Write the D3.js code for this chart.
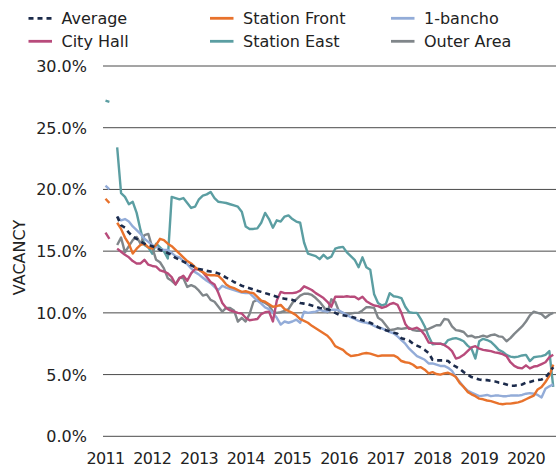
<!DOCTYPE html>
<html>
<head>
<meta charset="utf-8">
<script src="https://cdn.jsdelivr.net/npm/d3@7"></script>
<style>
  html, body { margin: 0; padding: 0; background: #fff; }
  svg { display: block; font-family: "DejaVu Sans", sans-serif; }
</style>
</head>
<body>
<svg id="chart" width="556" height="469"></svg>
<script>
// ---- data (monthly, starting January 2011; null = no data) ----
const startYear = 2011;
const yearTicks = [2011, 2012, 2013, 2014, 2015, 2016, 2017, 2018, 2019, 2020];
const yTicks = [0, 5, 10, 15, 20, 25, 30];

const average = [null,null,null,17.8,17.1,16.9,16.5,16.2,16.0,15.8,15.6,15.5,
15.4,15.3,15.1,15.0,14.85,14.7,14.45,14.3,14.15,14.0,13.85,13.7,
13.55,13.5,13.4,13.35,13.3,13.2,13.05,12.85,12.7,12.5,12.35,12.2,
12.1,12.0,11.9,11.8,11.7,11.6,11.5,11.4,11.3,11.2,11.15,11.1,
11.05,10.95,10.8,10.75,10.7,10.6,10.5,10.4,10.35,10.3,10.2,10.0,
9.85,9.8,9.75,9.7,9.6,9.5,9.4,9.3,9.2,9.05,8.85,8.7,
8.6,8.5,8.4,8.3,7.95,7.85,7.75,7.5,7.35,7.2,7.0,6.75,
6.2,6.15,6.15,6.15,6.1,5.8,5.65,5.45,5.2,5.0,4.8,4.7,
4.6,4.55,4.55,4.5,4.45,4.35,4.3,4.2,4.1,4.1,4.15,4.2,
4.35,4.4,4.5,4.55,4.6,4.75,5.15,5.6];

const stationFront = [19.25,18.9,null,17.3,16.8,16.1,15.6,14.8,15.2,15.5,15.6,15.3,
15.2,15.5,16.0,15.9,15.6,15.4,15.1,14.8,14.5,14.2,14.0,13.7,
13.5,13.3,13.1,13.05,13.05,13.0,12.7,12.3,12.1,12.0,11.85,11.7,
11.75,11.65,11.6,11.3,11.0,10.9,10.7,10.5,10.55,10.65,10.3,10.15,
10.0,9.8,9.5,9.35,9.2,8.95,8.75,8.55,8.35,8.15,7.8,7.3,
7.15,7.0,6.7,6.5,6.55,6.6,6.7,6.75,6.7,6.6,6.5,6.55,
6.55,6.55,6.55,6.4,6.1,6.0,5.95,5.8,5.55,5.6,5.4,5.1,
5.2,5.05,5.0,5.1,5.15,5.0,4.8,4.3,4.0,3.6,3.4,3.25,
3.05,3.0,2.9,2.85,2.75,2.65,2.6,2.65,2.65,2.7,2.75,2.85,
3.0,3.15,3.3,3.8,4.0,4.4,4.9,5.8];

const bancho1 = [20.3,20.0,null,17.8,17.5,17.6,17.4,17.0,16.7,16.4,16.0,15.75,
15.5,15.35,15.15,15.1,15.1,14.85,14.6,14.5,14.2,13.95,13.6,13.3,
13.1,12.85,12.6,12.4,12.1,11.85,12.2,12.05,11.95,11.85,11.75,11.65,
11.6,11.6,11.3,11.0,10.75,10.45,10.3,10.0,9.6,9.05,9.3,9.2,
9.3,9.45,9.2,10.1,10.0,10.05,10.1,10.25,10.15,10.1,10.25,10.25,
10.2,10.0,9.85,9.65,9.5,9.35,9.25,9.2,9.1,8.95,8.8,8.75,
8.6,8.45,8.35,8.1,7.8,7.5,7.1,6.8,6.5,6.35,6.2,5.9,
5.9,5.8,5.7,5.7,5.55,5.3,4.8,4.4,4.0,3.7,3.55,3.4,
3.25,3.3,3.35,3.25,3.3,3.3,3.25,3.25,3.3,3.3,3.3,3.35,
3.45,3.5,3.45,3.35,3.15,3.85,4.05,4.2];

const cityHall = [16.5,16.0,null,15.2,14.95,14.7,14.5,14.2,14.0,14.0,14.3,13.9,
13.8,13.75,13.45,13.35,13.2,12.9,12.3,12.8,13.0,12.6,13.2,13.55,
13.5,13.3,12.9,12.5,12.3,11.6,10.8,10.4,10.2,10.1,10.0,9.95,
9.6,9.4,9.45,9.5,9.9,10.05,10.1,9.3,11.0,11.7,11.6,11.6,
11.6,11.65,11.8,12.15,12.0,11.85,11.6,11.4,11.2,10.9,10.5,11.3,
11.3,11.3,11.35,11.3,11.3,11.1,11.3,10.95,10.75,10.6,10.55,10.4,
10.5,10.7,10.8,10.65,10.0,9.1,8.7,8.7,8.8,8.6,8.2,7.6,
7.55,7.5,7.5,7.4,7.2,6.9,6.3,6.4,6.6,6.9,7.2,7.3,
7.1,7.0,6.95,6.9,6.8,6.75,6.65,6.5,6.0,5.7,5.55,5.5,
5.75,5.5,5.65,5.7,5.85,6.0,6.4,6.6];

const stationEast = [27.2,27.1,null,23.4,19.7,19.4,18.8,19.0,18.1,16.7,15.5,15.3,
14.8,15.6,15.3,15.0,14.4,19.4,19.3,19.2,19.3,18.9,18.5,18.6,
19.2,19.5,19.6,19.8,19.3,19.0,18.95,18.9,18.8,18.7,18.6,18.2,
17.0,16.8,16.8,16.85,17.3,18.1,17.6,16.9,17.5,17.4,17.8,17.9,
17.6,17.4,17.3,15.7,14.8,14.7,14.6,14.35,14.7,14.4,14.55,15.2,
15.3,15.35,14.9,14.6,14.3,13.7,14.5,13.7,13.5,11.5,10.8,10.6,
10.7,11.6,11.35,11.3,11.2,10.5,10.05,10.0,10.0,9.5,8.9,8.1,
7.45,7.5,7.5,7.4,7.8,7.9,7.95,7.85,7.7,7.35,7.1,6.3,
7.7,7.9,7.8,7.65,7.35,7.0,6.85,6.6,6.45,6.4,6.45,6.55,
6.6,6.1,6.4,6.45,6.5,6.6,6.9,4.0];

const outerArea = [null,null,null,15.5,16.1,14.9,15.4,15.9,16.15,15.6,16.3,16.4,
15.3,14.3,14.1,13.6,12.8,12.6,12.3,12.85,12.8,12.1,12.25,12.1,
11.8,11.4,11.5,11.05,10.9,10.5,10.1,10.4,10.4,10.2,9.3,9.6,
9.3,9.9,10.9,11.05,10.95,10.8,10.6,10.1,10.0,10.05,10.15,10.3,
10.8,11.1,11.4,11.55,11.55,11.45,11.2,10.9,10.5,10.05,11.1,10.9,
10.1,10.0,9.9,9.95,10.0,10.0,10.2,10.45,10.45,10.4,9.6,9.4,
9.0,8.6,8.65,8.75,8.7,8.75,8.8,8.6,8.55,8.55,8.6,8.7,
8.85,9.0,9.0,9.5,9.45,8.9,8.6,8.55,8.45,8.1,8.15,8.0,
8.05,8.15,8.05,8.2,8.25,8.1,8.05,7.7,7.95,8.3,8.6,8.9,
9.3,9.8,10.1,10.0,9.9,9.6,9.85,10.0];

const seriesNames = ["Average", "Station Front", "1-bancho", "City Hall", "Station East", "Outer Area"];
const seriesValues = [average, stationFront, bancho1, cityHall, stationEast, outerArea];

// ---- styles ----
const colors = {
  "Average": "#1c2b4b",
  "Station Front": "#e8722c",
  "1-bancho": "#93acd8",
  "City Hall": "#b84b7b",
  "Station East": "#5b9ea2",
  "Outer Area": "#80868a"
};
const drawOrder = ["Station East", "Outer Area", "1-bancho", "City Hall", "Station Front", "Average"];

const svg = d3.select("#chart");
const plotLeft = 103, plotRight = 556;
const pxPerYear = 46.72;
const x = d3.scaleLinear()
  .domain([2011 - (105.5 - plotLeft) / pxPerYear, 2011 + (plotRight - 105.5) / pxPerYear])
  .range([plotLeft, plotRight]);
const y = d3.scaleLinear().domain([0, 30]).range([436.3, 66]);

// gridlines
svg.append("g").selectAll("line").data(yTicks).join("line")
  .attr("x1", plotLeft).attr("x2", plotRight)
  .attr("y1", d => y(d)).attr("y2", d => y(d))
  .attr("stroke", "#4a4a4a").attr("stroke-width", 1);

// y tick labels
svg.append("g").selectAll("text").data(yTicks).join("text")
  .attr("x", 87).attr("y", d => y(d) + 6)
  .attr("text-anchor", "end")
  .attr("font-size", 16).attr("fill", "#222")
  .text(d => d3.format(".1f")(d) + "%");

// x tick labels
svg.append("g").selectAll("text").data(yearTicks).join("text")
  .attr("x", d => x(d)).attr("y", 464)
  .attr("text-anchor", "middle")
  .attr("font-size", 16).attr("letter-spacing", "-0.7px").attr("fill", "#222")
  .text(d => d);

// y axis title
svg.append("text")
  .attr("transform", "translate(25,257.5) rotate(-90)")
  .attr("text-anchor", "middle")
  .attr("font-size", 16).attr("fill", "#222")
  .text("VACANCY");

// lines
const line = d3.line()
  .defined(d => d.v != null)
  .x(d => x(d.t))
  .y(d => y(d.v));

const gLines = svg.append("g");
drawOrder.forEach(name => {
  const vals = seriesValues[seriesNames.indexOf(name)];
  const pts = vals.map((v, i) => ({ t: startYear + i / 12, v }));
  gLines.append("path")
    .datum(pts)
    .attr("d", line)
    .attr("fill", "none")
    .attr("stroke", colors[name])
    .attr("stroke-width", name === "Average" ? 2.6 : 2.4)
    .attr("stroke-linejoin", "round")
    .attr("stroke-dasharray", name === "Average" ? "5,4" : null);
});

// legend
const legendOrder = [
  ["Average", 0, 0], ["Station Front", 1, 0], ["1-bancho", 2, 0],
  ["City Hall", 0, 1], ["Station East", 1, 1], ["Outer Area", 2, 1]
];
const colX = [28.5, 210, 391];
const rowY = [24, 47];
const lg = svg.append("g");
legendOrder.forEach(([name, c, r]) => {
  lg.append("line")
    .attr("x1", colX[c]).attr("x2", colX[c] + 23.5)
    .attr("y1", rowY[r] - 5.7).attr("y2", rowY[r] - 5.7)
    .attr("stroke", colors[name]).attr("stroke-width", 2.8)
    .attr("stroke-dasharray", name === "Average" ? "5,4" : null);
  lg.append("text")
    .attr("x", colX[c] + 33).attr("y", rowY[r])
    .attr("font-size", 16).attr("fill", "#222")
    .text(name);
});
</script>
</body>
</html>
